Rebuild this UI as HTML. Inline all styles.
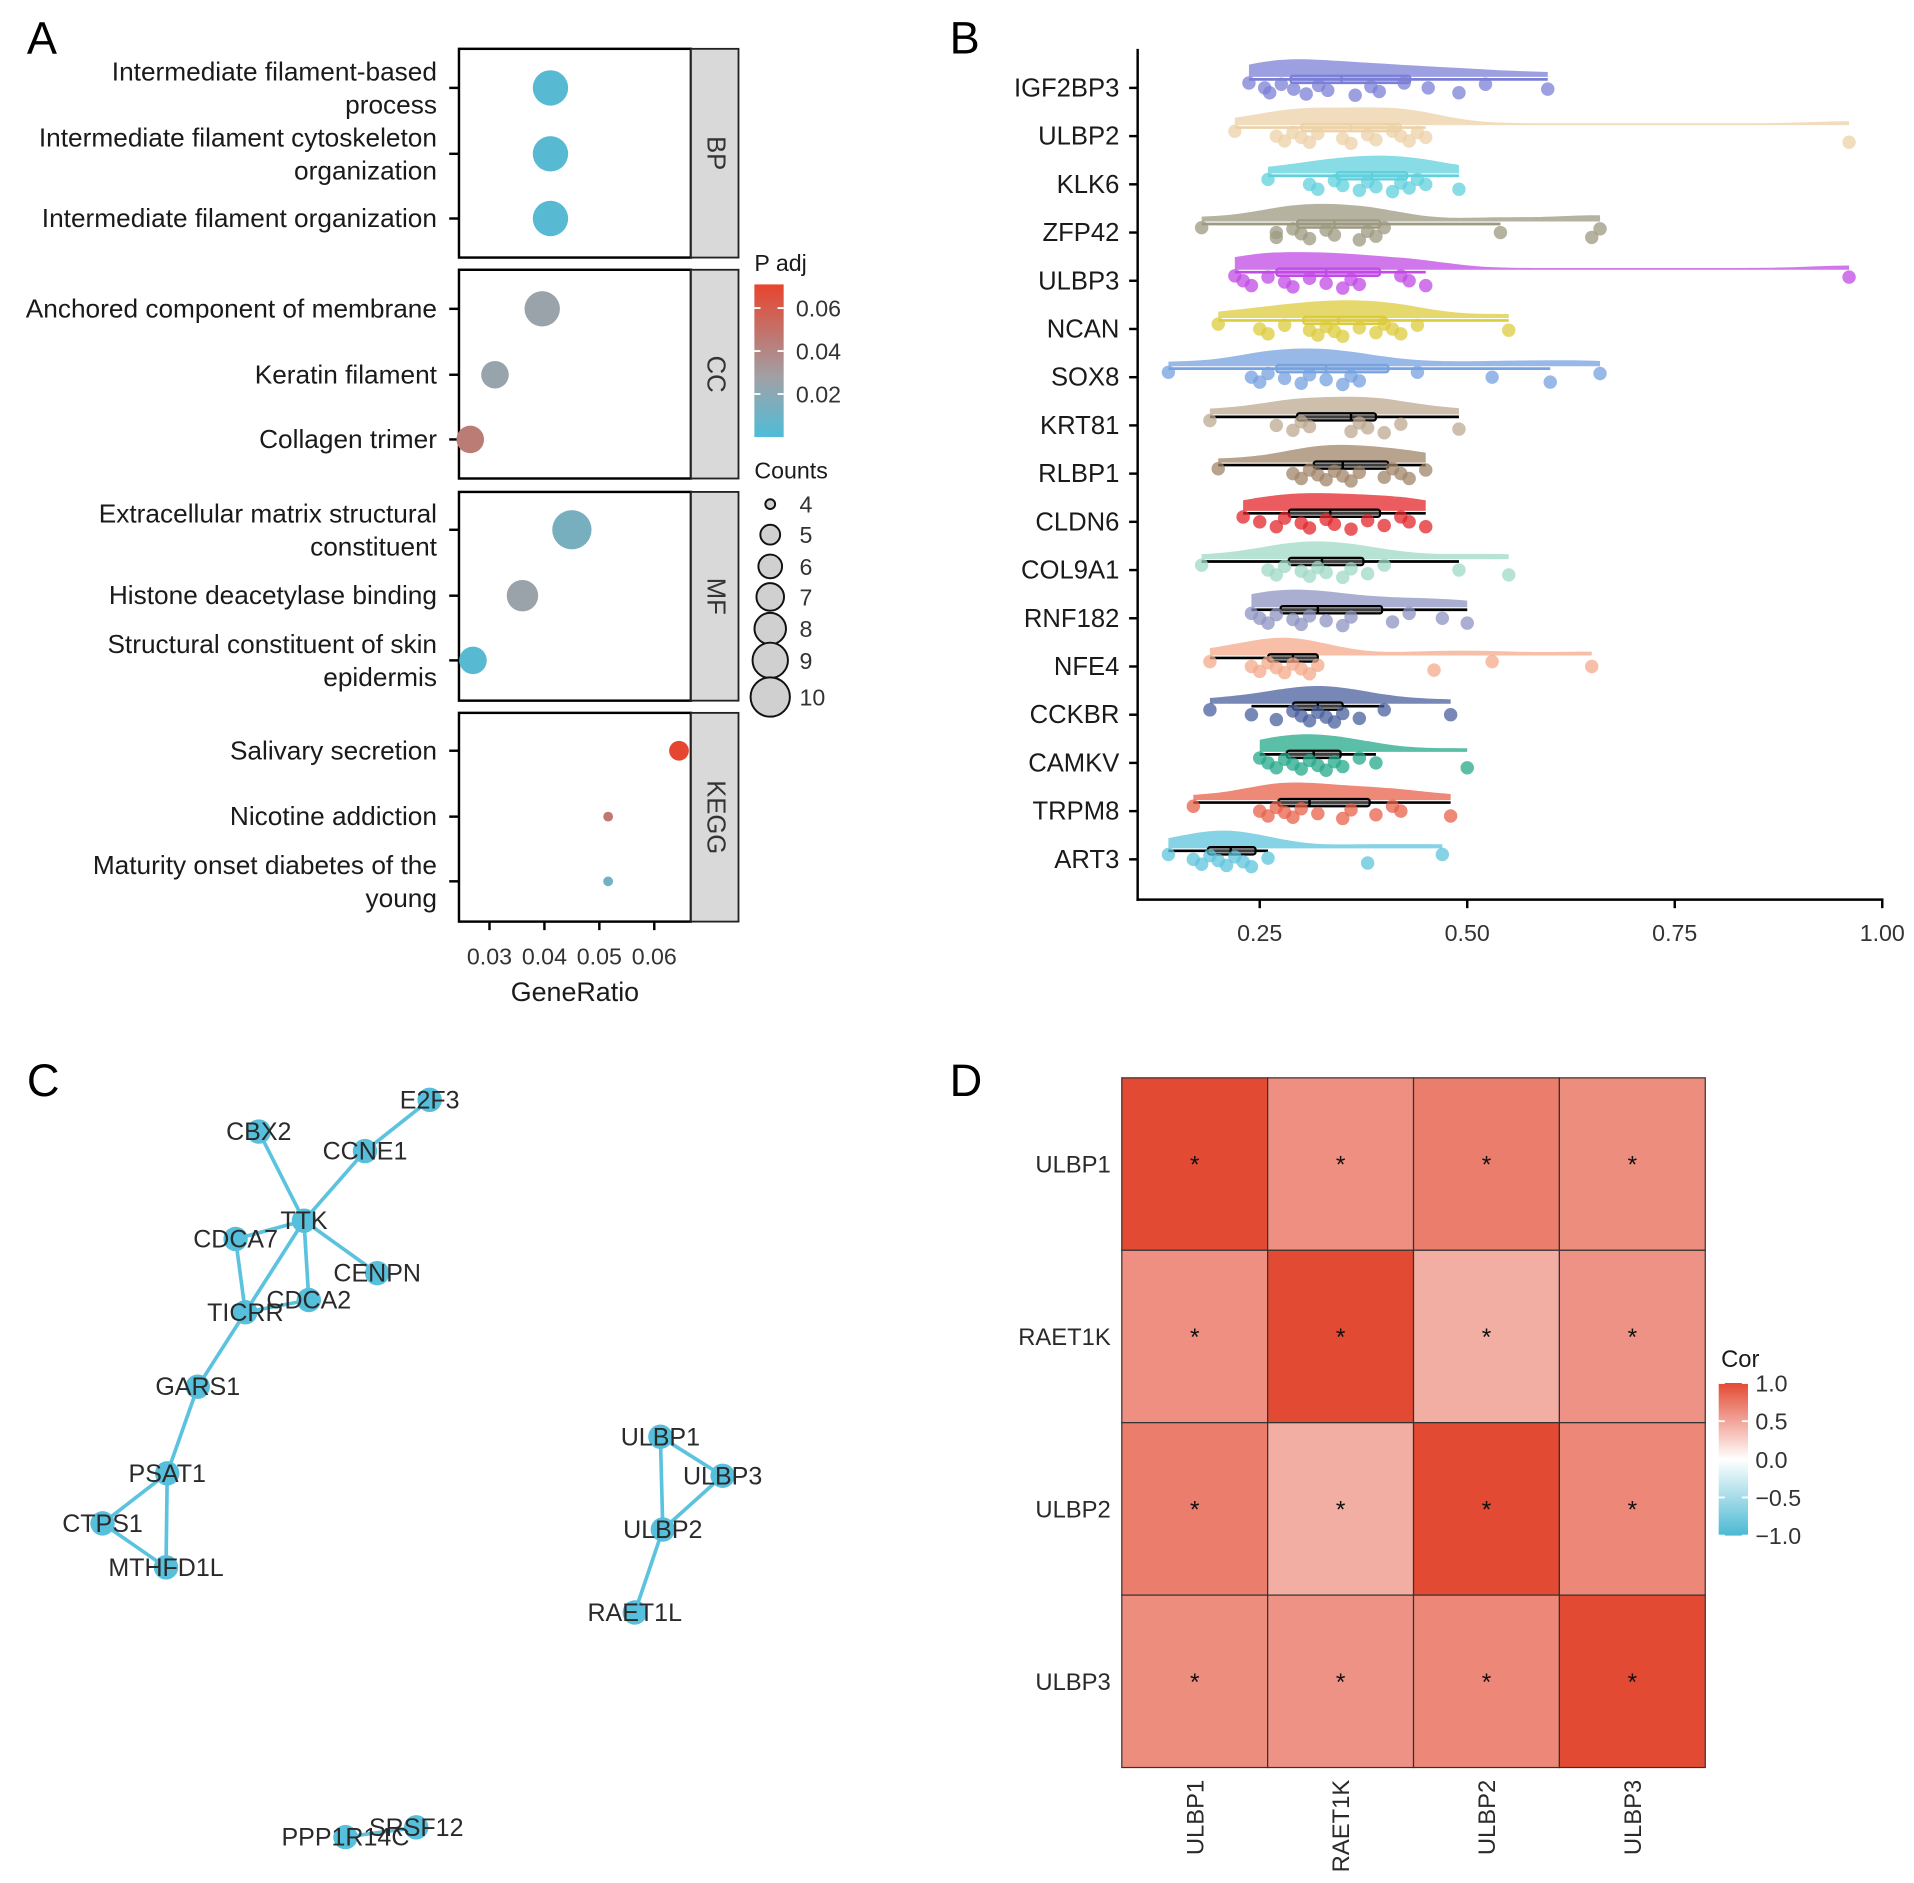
<!DOCTYPE html>
<html><head><meta charset="utf-8"><style>
html,body{margin:0;padding:0;background:#fff;}
svg{display:block;font-family:"Liberation Sans",Arial,sans-serif;}
</style></head><body>
<svg id="fig" xmlns="http://www.w3.org/2000/svg" width="1914" height="1883" viewBox="0 0 1568 1542.6">
<rect width="1568" height="1543" fill="#fff"/>
<g id="pA"></g>
<g id="pB"></g>
<g id="pC"></g>
<g id="pD"></g>
</svg>
<script>
// ---------- Panel A data ----------
const goTerms = [["Intermediate filament-based","process"],["Intermediate filament cytoskeleton","organization"],["Intermediate filament organization"],
["Anchored component of membrane"],["Keratin filament"],["Collagen trimer"],
["Extracellular matrix structural","constituent"],["Histone deacetylase binding"],["Structural constituent of skin","epidermis"],
["Salivary secretion"],["Nicotine addiction"],["Maturity onset diabetes of the","young"]];
const goRatio = [0.0411,0.0411,0.0411,0.0396,0.031,0.0265,0.045,0.036,0.027,0.0645,0.0516,0.0516];
const goPadj = [0.003,0.003,0.003,0.026,0.025,0.045,0.014,0.026,0.003,0.07,0.046,0.012];
const goCount = [9,9,9,9,7,7,10,8,7,5,4,4];
const goCats = ["BP","CC","MF","KEGG"];
const ratioTicks = [0.03,0.04,0.05,0.06];
const countLegend = [4,5,6,7,8,9,10];
const padjTicks = [0.02,0.04,0.06];
// ---------- Panel B data ----------
const genes = ["IGF2BP3","ULBP2","KLK6","ZFP42","ULBP3","NCAN","SOX8","KRT81","RLBP1","CLDN6","COL9A1","RNF182","NFE4","CCKBR","CAMKV","TRPM8","ART3"];
const geneVals = [
[0.237,0.256,0.262,0.276,0.291,0.306,0.321,0.332,0.365,0.384,0.394,0.424,0.453,0.49,0.522,0.597],
[0.22,0.27,0.28,0.29,0.3,0.31,0.32,0.35,0.36,0.38,0.39,0.41,0.42,0.43,0.44,0.45,0.96],
[0.26,0.31,0.32,0.34,0.35,0.37,0.38,0.39,0.41,0.42,0.43,0.44,0.45,0.49],
[0.18,0.27,0.27,0.29,0.30,0.31,0.33,0.34,0.37,0.38,0.39,0.40,0.54,0.65,0.66],
[0.22,0.23,0.24,0.26,0.28,0.29,0.31,0.33,0.35,0.36,0.37,0.42,0.43,0.45,0.96],
[0.20,0.25,0.26,0.28,0.31,0.32,0.33,0.34,0.35,0.37,0.39,0.40,0.41,0.42,0.44,0.55],
[0.14,0.24,0.25,0.26,0.28,0.30,0.31,0.33,0.35,0.36,0.37,0.44,0.53,0.60,0.66],
[0.19,0.27,0.29,0.30,0.31,0.36,0.37,0.38,0.40,0.42,0.49],
[0.20,0.29,0.30,0.31,0.32,0.33,0.34,0.35,0.36,0.37,0.40,0.41,0.42,0.43,0.45],
[0.23,0.25,0.27,0.28,0.30,0.31,0.33,0.34,0.36,0.38,0.40,0.42,0.43,0.45],
[0.18,0.26,0.27,0.28,0.30,0.31,0.32,0.33,0.35,0.36,0.38,0.40,0.49,0.55],
[0.24,0.25,0.26,0.27,0.29,0.30,0.31,0.33,0.35,0.36,0.41,0.43,0.47,0.50],
[0.19,0.24,0.25,0.26,0.27,0.28,0.29,0.30,0.31,0.32,0.46,0.53,0.65],
[0.19,0.24,0.27,0.29,0.30,0.31,0.32,0.33,0.34,0.35,0.37,0.40,0.48],
[0.25,0.26,0.27,0.28,0.29,0.30,0.31,0.32,0.33,0.34,0.35,0.37,0.39,0.50],
[0.17,0.25,0.26,0.27,0.28,0.29,0.30,0.32,0.35,0.36,0.39,0.41,0.42,0.48],
[0.14,0.17,0.18,0.19,0.20,0.21,0.22,0.23,0.24,0.26,0.38,0.47]];
const geneColors = ["#7b7fd6","#ecd2a8","#5fd0dc","#9c9a80","#c24ae6","#dccb3c","#76a2e0","#bda890","#a08468","#e3262a","#9ed9c4","#8e94c2","#f4a98a","#4a5f9e","#24a888","#e8604a","#5ec4dc"];
const bTicks = [0.25,0.50,0.75,1.00];
// ---------- Panel C data ----------
const nodeNames = ["E2F3","CBX2","CCNE1","TTK","CDCA7","CENPN","CDCA2","TICRR","GARS1","PSAT1","CTPS1","MTHFD1L","ULBP1","ULBP3","ULBP2","RAET1L","PPP1R14C","SRSF12"];
const nodeX = [352,212,299,249,193,309,253,201,162,137,84,136,541,592,543,520,283,341];
const nodeY = [901,927,943,1000,1015,1043,1065,1075,1136,1207,1248,1284,1177,1209,1253,1321,1505,1497];
const edgeFrom = ["E2F3","CCNE1","CBX2","TTK","TTK","TTK","TTK","CDCA7","TICRR","TICRR","GARS1","PSAT1","PSAT1","CTPS1","ULBP1","ULBP1","ULBP3","ULBP2","PPP1R14C"];
const edgeTo = ["CCNE1","TTK","TTK","CDCA7","CENPN","CDCA2","TICRR","TICRR","CDCA2","GARS1","PSAT1","CTPS1","MTHFD1L","MTHFD1L","ULBP3","ULBP2","ULBP2","RAET1L","SRSF12"];
// ---------- Panel D data ----------
const corGenes = ["ULBP1","RAET1K","ULBP2","ULBP3"];
const corRow0 = [1.0,0.62,0.72,0.63];
const corRow1 = [0.62,1.0,0.45,0.60];
const corRow2 = [0.72,0.45,1.0,0.66];
const corRow3 = [0.63,0.60,0.66,1.0];
const corTicks = [1.0,0.5,0.0,-0.5,-1.0];

const NS="http://www.w3.org/2000/svg";
function mk(parent,tag,attrs,text){const e=document.createElementNS(NS,tag);for(const k in attrs)e.setAttribute(k,attrs[k]);if(text!==undefined)e.textContent=text;parent.appendChild(e);return e;}
function lerp(a,b,t){return a+(b-a)*t;}
function hex(c){return [parseInt(c.slice(1,3),16),parseInt(c.slice(3,5),16),parseInt(c.slice(5,7),16)];}
function mix(c1,c2,t){const a=hex(c1),b=hex(c2);return "rgb("+a.map((v,i)=>Math.round(lerp(v,b[i],t))).join(",")+")";}
const TXT="#1a1a1a";

const fig=document.getElementById('fig');
[["A",22,44],["B",778,44],["C",22,898],["D",778,898]].forEach(l=>{
 const t=mk(fig,'text',{x:l[1],y:l[2],'font-size':37,fill:'#000'},l[0]);
 
 
});

// ---------- Panel A ----------
(function(){
 const g=document.getElementById('pA');
 const x0=376,x1=566;
 const xs=v=>401+(v-0.03)*4500;
 const panelTop=[40,221,403,584],panelH=171;
 const rowY=[72,126,179,253,307,360,434,488,541,615,669,722];
 function padjCol(p){const t=Math.min(1,p/0.071);
  if(t<0.38) return mix("#4fbcd8","#9ea2a8",t/0.38);
  return mix("#9ea2a8","#e8442e",(t-0.38)/0.62);}
 const rad=c=>4+(c-4)*1.6+(c>4?2.5:0);
 goCats.forEach((c,i)=>{
  const r=mk(g,'rect',{x:x0,y:panelTop[i],width:x1-x0,height:panelH,fill:'#fff',stroke:'#000','stroke-width':2});
  
  const s=mk(g,'rect',{x:x1,y:panelTop[i],width:39,height:panelH,fill:'#d9d9d9',stroke:'#222','stroke-width':1.5});
  
  const cy=panelTop[i]+panelH/2;
  const t=mk(g,'text',{x:586,y:cy,'font-size':21,fill:'#333','text-anchor':'middle','dominant-baseline':'central',transform:`rotate(90 586 ${cy})`},c);
  
 });
 goTerms.forEach((lines,i)=>{
  const y=rowY[i];
  mk(g,'line',{x1:368,x2:376,y1:y,y2:y,stroke:'#000','stroke-width':2});
  const t=mk(g,'text',{'font-size':21.5,fill:TXT,'text-anchor':'end'});
  
  if(lines.length===1){mk(t,'tspan',{x:358,y:y+7},lines[0]);}
  else{mk(t,'tspan',{x:358,y:y-6},lines[0]);mk(t,'tspan',{x:358,y:y+21},lines[1]);}
  const d=mk(g,'circle',{cx:xs(goRatio[i]),cy:y,r:rad(goCount[i]),fill:padjCol(goPadj[i])});
  
 });
 ratioTicks.forEach(v=>{
  const x=xs(v);mk(g,'line',{x1:x,x2:x,y1:755,y2:762,stroke:'#000','stroke-width':2});
  const t=mk(g,'text',{x:x,y:790,'font-size':19,fill:'#333','text-anchor':'middle'},v.toFixed(2));
  
 });
 const xt=mk(g,'text',{x:471,y:820,'font-size':22,fill:TXT,'text-anchor':'middle'},"GeneRatio");
 
 const lt=mk(g,'text',{x:618,y:222,'font-size':19,fill:TXT},"P adj");
 
 const defs=mk(g,'defs',{});const lg=mk(defs,'linearGradient',{id:'padjg',x1:0,y1:1,x2:0,y2:0});
 [0,0.19,0.38,0.7,1].forEach(o=>mk(lg,'stop',{offset:o,'stop-color':padjCol(o*0.071)}));
 const bar=mk(g,'rect',{x:618,y:233,width:24,height:125,fill:'url(#padjg)'});
 
 padjTicks.forEach(v=>{const y=358-v/0.071*125;
  mk(g,'line',{x1:618,x2:623,y1:y,y2:y,stroke:'#fff','stroke-width':1.5});
  mk(g,'line',{x1:637,x2:642,y1:y,y2:y,stroke:'#fff','stroke-width':1.5});
  const t=mk(g,'text',{x:652,y:y+7,'font-size':19,fill:'#333'},v.toFixed(2));
  });
 const ct=mk(g,'text',{x:618,y:392,'font-size':19,fill:TXT},"Counts");
 
 const ly=[413,438,464,489,515,541,571];
 countLegend.forEach((c,i)=>{
  const cc=mk(g,'circle',{cx:631,cy:ly[i],r:rad(c),fill:'#d0d0d0',stroke:'#111','stroke-width':1.6});
  
  mk(g,'text',{x:655,y:ly[i]+7,'font-size':19,fill:'#333'},String(c));
 });
})();

// ---------- Panel B ----------
(function(){
 const g=document.getElementById('pB');
 const xs=v=>1032+(v-0.25)*680;
 const rowY=i=>72+i*39.5;
 mk(g,'line',{x1:932,x2:932,y1:40,y2:738,stroke:'#000','stroke-width':2});
 mk(g,'line',{x1:931,x2:1543,y1:737,y2:737,stroke:'#000','stroke-width':2});
 bTicks.forEach(v=>{const x=xs(v);mk(g,'line',{x1:x,x2:x,y1:737,y2:744,stroke:'#000','stroke-width':2});
  const t=mk(g,'text',{x:x,y:771,'font-size':19,fill:'#333','text-anchor':'middle'},v.toFixed(2));
  });
 function q(a,p){const s=[...a].sort((x,y)=>x-y);const h=(s.length-1)*p;const lo=Math.floor(h);return s[lo]+(s[Math.min(lo+1,s.length-1)]-s[lo])*(h-lo);}
 genes.forEach((name,i)=>{
  const y=rowY(i),vals=geneVals[i],col=geneColors[i];
  mk(g,'line',{x1:925,x2:932,y1:y,y2:y,stroke:'#000','stroke-width':2});
  const t=mk(g,'text',{x:917,y:y+7,'font-size':21,fill:TXT,'text-anchor':'end'},name);
  
  const mn=Math.min(...vals),mx=Math.max(...vals);
  const bw=0.045,N=80,dens=[];
  for(let k=0;k<=N;k++){const v=mn+(mx-mn)*k/N;let s=0;vals.forEach(u=>{s+=Math.exp(-0.5*((v-u)/bw)**2);});dens.push([v,s]);}
  const dm=Math.max(...dens.map(d=>d[1]));
  const base=y-9;let p=`M${xs(mn)},${base}`;
  dens.forEach(d=>{p+=` L${xs(d[0]).toFixed(1)},${(base-1.5-d[1]/dm*13).toFixed(1)}`;});
  p+=` L${xs(mx)},${base} Z`;
  const v=mk(g,'path',{d:p,fill:col,'fill-opacity':0.75});
  
  const q1=q(vals,0.25),q3=q(vals,0.75),md=q(vals,0.5),iqr=q3-q1;
  const lo=Math.min(...vals.filter(u=>u>=q1-1.5*iqr)),hi=Math.max(...vals.filter(u=>u<=q3+1.5*iqr));
  const bc=i<7?col:'#000',by=y-7;
  mk(g,'line',{x1:xs(lo),x2:xs(hi),y1:by,y2:by,stroke:bc,'stroke-width':2.2});
  const bx=mk(g,'rect',{x:xs(q1),y:by-3,width:xs(q3)-xs(q1),height:6,rx:2,fill:i<7?col:'#666','fill-opacity':0.6,stroke:bc,'stroke-width':1.8});
  
  mk(g,'line',{x1:xs(md),x2:xs(md),y1:by-3,y2:by+3,stroke:bc,'stroke-width':2});
  vals.forEach((u,k)=>{const jy=y+((k*37)%11)-4;
   const c=mk(g,'circle',{cx:xs(u),cy:jy,r:5.5,fill:col,'fill-opacity':0.75});
   });
 });
})();

// ---------- Panel C ----------
(function(){
 const g=document.getElementById('pC');
 const idx=n=>nodeNames.indexOf(n);
 edgeFrom.forEach((f,k)=>{const a=idx(f),b=idx(edgeTo[k]);
  const e=mk(g,'line',{x1:nodeX[a],y1:nodeY[a],x2:nodeX[b],y2:nodeY[b],stroke:'#5cc3df','stroke-width':3});
  });
 nodeNames.forEach((n,i)=>{
  const c=mk(g,'circle',{cx:nodeX[i],cy:nodeY[i],r:10,fill:'#55bfdc'});
  });
 nodeNames.forEach((n,i)=>{
  const t=mk(g,'text',{x:nodeX[i],y:nodeY[i]+7,'font-size':20.5,fill:'#2a2a2a','text-anchor':'middle'},n);
  });
})();

// ---------- Panel D ----------
(function(){
 const g=document.getElementById('pD');
 const rows=[corRow0,corRow1,corRow2,corRow3];
 const x0=919,y0=883,cw=(1397-919)/4,ch=(1448-883)/4;
 const col=v=>v>=0?mix("#ffffff","#e34a33",v):mix("#ffffff","#4ab9d3",-v);
 rows.forEach((r,i)=>r.forEach((v,j)=>{
  const c=mk(g,'rect',{x:x0+j*cw,y:y0+i*ch,width:cw,height:ch,fill:col(v),stroke:'#333','stroke-width':1});
  
  mk(g,'text',{x:x0+j*cw+cw/2,y:y0+i*ch+ch/2+7,'font-size':20,'text-anchor':'middle',fill:'#111'},"*");
 }));
 corGenes.forEach((n,i)=>{
  const t=mk(g,'text',{x:910,y:y0+i*ch+ch/2+7,'font-size':19.5,fill:'#2a2a2a','text-anchor':'end'},n);
  
  const cx=x0+i*cw+cw/2+7,cy=1458;
  const u=mk(g,'text',{x:cx,y:cy,'font-size':19.5,fill:'#2a2a2a','text-anchor':'end',transform:`rotate(-90 ${cx} ${cy})`},n);
  
 });
 const lt=mk(g,'text',{x:1410,y:1120,'font-size':19.5,fill:TXT},"Cor");
 
 const defs=mk(g,'defs',{});const lg=mk(defs,'linearGradient',{id:'corg',x1:0,y1:1,x2:0,y2:0});
 [0,0.25,0.5,0.75,1].forEach(o=>mk(lg,'stop',{offset:o,'stop-color':col(o*2-1)}));
 const bar=mk(g,'rect',{x:1408,y:1133,width:24,height:125,fill:'url(#corg)'});
 
 corTicks.forEach(v=>{const y=1258-(v+1)/2*125;
  mk(g,'line',{x1:1408,x2:1413,y1:y,y2:y,stroke:'#fff','stroke-width':1.5});
  mk(g,'line',{x1:1427,x2:1432,y1:y,y2:y,stroke:'#fff','stroke-width':1.5});
  const t=mk(g,'text',{x:1438,y:y+7,'font-size':19,fill:'#333'},(v<0?"\u2212"+(-v).toFixed(1):v.toFixed(1)));
  });
})();
</script>
</body></html>
